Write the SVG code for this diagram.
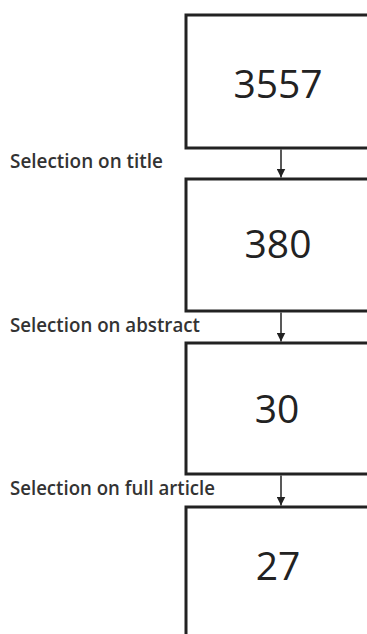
<svg xmlns="http://www.w3.org/2000/svg" width="367" height="634" viewBox="0 0 367 634">
<defs>
<style>
.box{fill:#fff;stroke:#222;stroke-width:3}
.num{font-family:"Open Sans","Noto Sans",sans-serif;font-size:39px;fill:#222;text-anchor:middle}
.lbl{font-family:"Open Sans","Noto Sans",sans-serif;font-size:19px;font-weight:600;fill:#333}
.conn{stroke:#222;stroke-width:1.5;fill:none}
</style>
<marker id="ah" viewBox="0 0 10 10" refX="10" refY="5" markerWidth="6" markerHeight="6" markerUnits="strokeWidth" orient="auto">
<path d="M0,0 L10,5 L0,10 Z" fill="#222"/>
</marker>
</defs>
<rect width="367" height="634" fill="#fff"/>
<g id="n1"><rect class="box" x="186" y="15" width="190" height="133"/><text class="num" x="278" y="98">3557</text></g>
<g id="n2"><rect class="box" x="186" y="179" width="190" height="132"/><text class="num" x="278" y="258">380</text></g>
<g id="n3"><rect class="box" x="186" y="343" width="190" height="131"/><text class="num" x="277" y="423">30</text></g>
<g id="n4"><rect class="box" x="186" y="507" width="190" height="140"/><text class="num" x="278" y="580">27</text></g>
<g id="connectors">
<line class="conn" x1="281" y1="149.5" x2="281" y2="177.5" marker-end="url(#ah)"/>
<line class="conn" x1="281" y1="312.5" x2="281" y2="341.5" marker-end="url(#ah)"/>
<line class="conn" x1="281" y1="475.5" x2="281" y2="505.5" marker-end="url(#ah)"/>
</g>
<g id="labels">
<text class="lbl" x="10" y="168" textLength="153" lengthAdjust="spacingAndGlyphs">Selection on title</text>
<text class="lbl" x="10" y="332" textLength="190" lengthAdjust="spacingAndGlyphs">Selection on abstract</text>
<text class="lbl" x="10" y="495" textLength="205" lengthAdjust="spacingAndGlyphs">Selection on full article</text>
</g>
</svg>
